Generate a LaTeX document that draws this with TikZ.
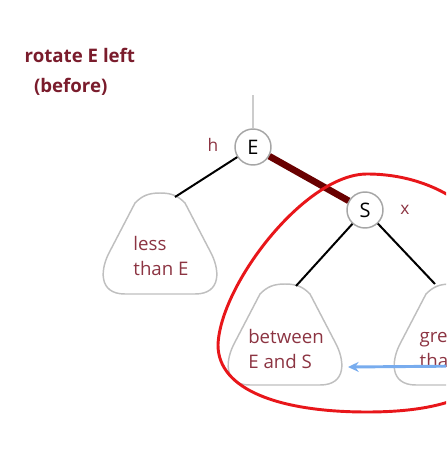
\documentclass[tikz,border=0pt]{standalone}
\usepackage{fontspec}
\setmainfont{Open Sans}
\usetikzlibrary{arrows.meta}
\definecolor{titlered}{RGB}{122,28,44}
\definecolor{labelred}{RGB}{140,52,66}
\definecolor{linkred}{RGB}{105,0,0}
\definecolor{ringred}{RGB}{232,22,26}
\definecolor{pointblue}{RGB}{120,172,238}
\tikzset{
  key/.style={circle, draw=gray!70, line width=1.1pt, fill=white,
    minimum size=27pt, inner sep=0pt, font=\fontsize{15}{15}\selectfont},
  link/.style={line width=1.5pt, black},
  subtree/.style={draw=gray!50, line width=1.1pt},
  subtext/.style={align=left, text=labelred, font=\fontsize{14}{18.75}\selectfont},
  tag/.style={text=labelred, font=\fontsize{13}{13}\selectfont},
}
\newcommand{\subtreeshape}{(0,0) .. controls (12,0) and (18,3) .. (25,10)
  -- (50,58) .. controls (60,76) and (62,101) .. (35,101) -- (-35,101)
  .. controls (-62,101) and (-60,76) .. (-50,58) -- (-25,10)
  .. controls (-18,3) and (-12,0) .. (0,0) -- cycle}
\begin{document}
\begin{tikzpicture}[x=0.75pt, y=-0.75pt]
\useasboundingbox (0,0) rectangle (446,467);
\clip (0,0) rectangle (446,467);
% title
\node[anchor=base west, align=left, text=titlered,
  font=\fontsize{14}{22.5}\selectfont\bfseries] (title) at (20,93)
  {rotate E left\\\hspace*{7pt}(before)};
% subtrees
\draw[subtree, shift={(160,193)}] \subtreeshape;
\draw[subtree, shift={(285,284)}] \subtreeshape;
\draw[subtree, shift={(451,284)}] \subtreeshape;
\node[subtext] (less) at (161,256) {less\\than E};
\node[subtext] (between) at (286,349) {between\\E and S};
\node[subtext, anchor=west] (greater) at (415,349) {greater\\than S};
\coordinate (less-top) at (175,197);
\coordinate (between-top) at (296,286);
\coordinate (greater-top) at (435,284);
% keys
\coordinate (root) at (253,95);
\node[key] (E) at (253,147) {E};
\node[key] (S) at (365,210) {S};
\node[tag] (h) at (213,145) {h};
\node[tag] (x) at (405,210) {x};
\draw[line width=2.2pt, gray!40] (root) -- (E);
\draw[link] (E) -- (less-top);
\draw[link] (S) -- (between-top);
\draw[link] (S) -- (greater-top);
\draw[line width=5pt, linkred] (E) -- (S);
% red ring round S
\draw[line width=2.2pt, ringred] (367,174) .. controls (305,174) and (220,285) .. (218,345)
  .. controls (218,390) and (280,412) .. (367,412)
  .. controls (470,412) and (520,380) .. (510,300)
  .. controls (510,225) and (445,174) .. (367,174) -- cycle;
% pointer
\coordinate (pointer-start) at (470,366);
\coordinate (pointer-end) at (348,367);
\draw[-{Stealth[length=8pt, width=7.5pt]}, line width=2.2pt, pointblue] (pointer-start) -- (pointer-end);
\end{tikzpicture}
\end{document}
